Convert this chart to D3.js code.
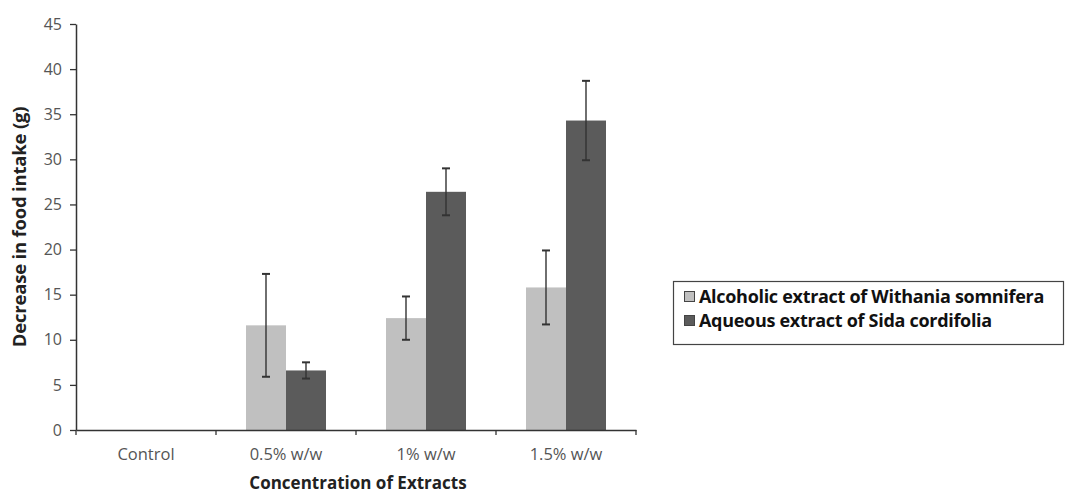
<!DOCTYPE html>
<html><head><meta charset="utf-8">
<script src="https://cdn.jsdelivr.net/npm/d3@7/dist/d3.min.js"></script>
<style>body{margin:0;background:#fff}svg text{font-family:"Open Sans",sans-serif}</style>
</head><body><svg id="c" width="1069" height="496"></svg>
<script>
const categories = ["Control", "0.5% w/w", "1% w/w", "1.5% w/w"];
const seriesNames = ["Alcoholic extract of Withania somnifera", "Aqueous extract of Sida cordifolia"];
const alcoholic = [null, 11.6, 12.4, 15.8];
const alcoholicErr = [null, 5.7, 2.4, 4.1];
const aqueous = [null, 6.6, 26.4, 34.3];
const aqueousErr = [null, 0.9, 2.6, 4.4];
const yTicks = [0, 5, 10, 15, 20, 25, 30, 35, 40, 45];
const colors = ["#c0c0c0", "#5b5b5b"];

const svg = d3.select("#c");
const x0 = 76, x1 = 636, yTop = 24, yBot = 430;
const x = d3.scaleBand().domain(categories).range([x0, x1]).paddingInner(0).paddingOuter(0);
const y = d3.scaleLinear().domain([0, 45]).range([yBot, yTop]);
const inner = d3.scaleBand().domain([0, 1]).range([30, x.bandwidth() - 30]);

const series = [
  {vals: alcoholic, errs: alcoholicErr},
  {vals: aqueous, errs: aqueousErr}
];

series.forEach((s, si) => {
  const data = categories.map((c, i) => ({c, v: s.vals[i], e: s.errs[i]})).filter(d => d.v != null);
  svg.append("g").selectAll("rect").data(data).join("rect")
    .attr("x", d => x(d.c) + inner(si))
    .attr("width", inner.bandwidth())
    .attr("y", d => y(d.v))
    .attr("height", d => y(0) - y(d.v))
    .attr("fill", colors[si]);
});
series.forEach((s, si) => {
  const data = categories.map((c, i) => ({c, v: s.vals[i], e: s.errs[i]})).filter(d => d.v != null);
  const g = svg.append("g").attr("stroke", "#333").attr("stroke-width", 1.4);
  data.forEach(d => {
    const cx = x(d.c) + inner(si) + inner.bandwidth() / 2;
    g.append("line").attr("x1", cx).attr("x2", cx).attr("y1", y(d.v - d.e)).attr("y2", y(d.v + d.e));
    [d.v - d.e, d.v + d.e].forEach(t => g.append("line").attr("x1", cx - 4).attr("x2", cx + 4).attr("y1", y(t)).attr("y2", y(t)).attr("stroke-width", 2));
  });
});

const ya = svg.append("g").attr("transform", `translate(${x0},0)`)
  .call(d3.axisLeft(y).tickValues(yTicks).tickSize(6).tickPadding(8).tickSizeOuter(0));
ya.select(".domain").attr("stroke", "#333").attr("stroke-width", 1.5);
ya.selectAll(".tick line").attr("stroke", "#333").attr("stroke-width", 1.3);
ya.selectAll(".tick text").attr("font-size", 16).attr("fill", "#555");

const xa = svg.append("g").attr("transform", `translate(0,${yBot})`)
  .call(d3.axisBottom(x).tickSize(0).tickPadding(25).tickSizeOuter(0));
xa.select(".domain").attr("stroke", "#333").attr("stroke-width", 1.5);
xa.selectAll(".tick text").attr("font-size", 16.5).attr("fill", "#555").attr("dy", "0.32em");
const bounds = categories.map(c => x(c)).concat([x1]);
svg.append("g").selectAll("line").data(bounds).join("line")
  .attr("x1", d => d).attr("x2", d => d).attr("y1", yBot).attr("y2", yBot + 5)
  .attr("stroke", "#333").attr("stroke-width", 1.3);

svg.append("text").attr("x", (x0 + x1) / 2 + 2).attr("y", 489).attr("text-anchor", "middle")
  .attr("font-size", 17).attr("font-weight", "bold").attr("fill", "#222").text("Concentration of Extracts");
svg.append("text").attr("transform", `translate(26,${(yTop + yBot) / 2}) rotate(-90)`).attr("text-anchor", "middle")
  .attr("font-size", 18.5).attr("font-weight", "bold").attr("fill", "#222").attr("letter-spacing", "-0.2").text("Decrease in food intake (g)");

const lg = svg.append("g");
lg.append("rect").attr("x", 673.5).attr("y", 281.5).attr("width", 390).attr("height", 63)
  .attr("fill", "none").attr("stroke", "#444").attr("stroke-width", 1.2);
seriesNames.forEach((n, i) => {
  const yy = 297 + i * 24;
  lg.append("rect").attr("x", 684.5).attr("y", yy - 5.5).attr("width", 10).attr("height", 10)
    .attr("fill", colors[i]).attr("stroke", "#444").attr("stroke-width", 1);
  lg.append("text").attr("x", 699).attr("y", yy + 6).attr("font-size", 18).attr("font-weight", "bold")
    .attr("fill", "#111").attr("letter-spacing", "-0.3").text(n);
});
</script></body></html>
